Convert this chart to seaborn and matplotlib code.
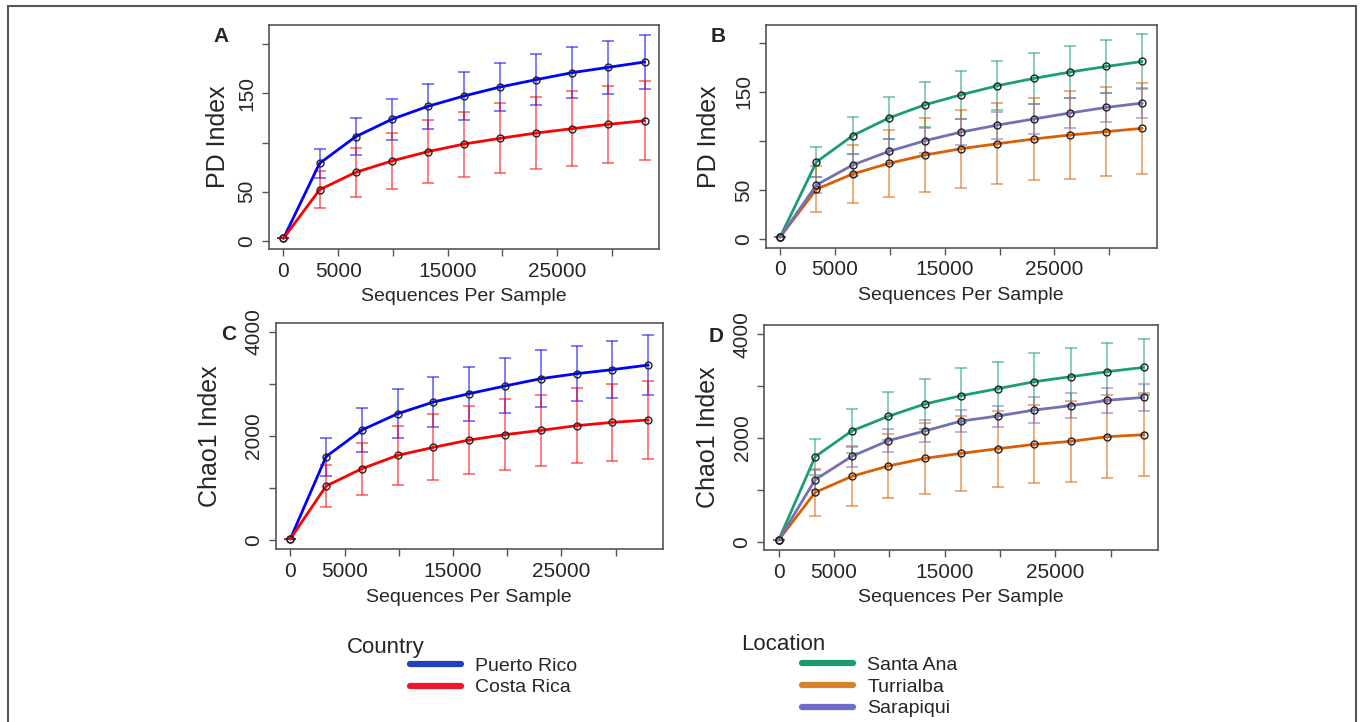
import numpy as np
import pandas as pd
import matplotlib
matplotlib.use("Agg")
import matplotlib.pyplot as plt
from matplotlib.lines import Line2D
from matplotlib.patches import Rectangle
import seaborn as sns

# rarefaction depths
depth = [0, 3300, 6600, 9900, 13200, 16500, 19800, 23100, 26400, 29700, 33000]

# PD index by country (mean, sd)
pd_puerto_rico = [2.7, 78.9, 106, 123.6, 136.8, 147.3, 156.4, 163.9, 171, 176.4, 181.8]
pd_puerto_rico_sd = [0, 15, 19, 21, 23, 24.4, 24.7, 26, 26, 26.7, 27]
pd_costa_rica = [2.7, 52.1, 69.8, 81.3, 90.8, 98.5, 104.3, 109.7, 114.1, 118.5, 122.2]
pd_costa_rica_sd = [0, 19, 25, 28, 32, 33, 35.6, 36.7, 37.8, 38.8, 39.8]

# PD index by location
pd_santa_ana = [2, 78.4, 105.2, 123.2, 136.7, 146.9, 156.1, 163.5, 170, 175.7, 180.8]
pd_santa_ana_sd = [0, 15.5, 19, 21, 23, 24.5, 24.8, 26.2, 26.1, 26.9, 27.5]
pd_turrialba = [2, 50.6, 66.2, 77, 85.5, 92, 97, 101.8, 105.9, 109.3, 112.7]
pd_turrialba_sd = [0, 23.4, 29.5, 34.4, 37.3, 39.7, 41, 41.9, 44.5, 45.2, 46.3]
pd_sarapiqui = [2, 55, 75.3, 89.2, 100.1, 108.9, 116, 122.2, 128.3, 134, 138.4]
pd_sarapiqui_sd = [0, 7.8, 10.9, 12.5, 13, 13.6, 13.7, 15, 15, 14.6, 14.7]

# Chao1 by country
chao_puerto_rico = [19, 1603, 2115, 2429, 2654, 2814, 2962, 3103, 3199, 3276, 3365]
chao_puerto_rico_sd = [0, 365, 426, 475, 484, 516, 529, 548, 532, 545, 570]
chao_costa_rica = [19, 1038, 1372, 1628, 1782, 1923, 2026, 2109, 2199, 2263, 2308]
chao_costa_rica_sd = [0, 410, 500, 564, 635, 645, 686, 689, 718, 737, 747]

# Chao1 by location
chao_santa_ana = [32, 1640, 2135, 2418, 2656, 2817, 2952, 3087, 3183, 3280, 3363]
chao_santa_ana_sd = [0, 350, 417, 463, 482, 527, 521, 546, 547, 546, 541]
chao_turrialba = [32, 952, 1260, 1460, 1608, 1704, 1794, 1878, 1936, 2026, 2064]
chao_turrialba_sd = [0, 456, 563, 617, 691, 726, 733, 752, 787, 800, 801]
chao_sarapiqui = [32, 1196, 1646, 1949, 2135, 2328, 2424, 2540, 2624, 2727, 2785]
chao_sarapiqui_sd = [0, 193, 209, 219, 219, 216, 203, 257, 241, 235, 260]

countries = ["Puerto Rico", "Costa Rica"]
locations = ["Santa Ana", "Turrialba", "Sarapiqui"]
country_colors = {"Puerto Rico": "#0000ff", "Costa Rica": "#ff0000"}
location_colors = {"Santa Ana": "#1b9e77", "Turrialba": "#d95f02", "Sarapiqui": "#7570b3"}
country_legend_colors = ["#2040c0", "#ee1530"]
location_legend_colors = ["#1a9a70", "#d8802a", "#6b6bd0"]

sns.set_style("white")
plt.rcParams["font.family"] = ["Liberation Sans", "DejaVu Sans"]

fig = plt.figure(figsize=(13.6, 7.22), dpi=100)
fig.patches.append(Rectangle((8 / 1360, -0.1), 1348 / 1360, 1.1 - 6 / 722,
                             transform=fig.transFigure, fill=False,
                             edgecolor="#555555", linewidth=1.5))

panels = [
    ("A", [0.1978, 0.6551, 0.2868, 0.3102], "PD Index",
     {"Puerto Rico": (pd_puerto_rico, pd_puerto_rico_sd),
      "Costa Rica": (pd_costa_rica, pd_costa_rica_sd)}, country_colors, (-8.1, 219.3), -0.100),
    ("B", [0.5630, 0.6569, 0.2875, 0.3084], "PD Index",
     {"Santa Ana": (pd_santa_ana, pd_santa_ana_sd),
      "Turrialba": (pd_turrialba, pd_turrialba_sd),
      "Sarapiqui": (pd_sarapiqui, pd_sarapiqui_sd)}, location_colors, (-8.9, 217.9), -0.115),
    ("C", [0.2029, 0.2396, 0.2843, 0.3126], "Chao1 Index",
     {"Puerto Rico": (chao_puerto_rico, chao_puerto_rico_sd),
      "Costa Rica": (chao_costa_rica, chao_costa_rica_sd)}, country_colors, (-173, 4167), -0.140),
    ("D", [0.5618, 0.2382, 0.2899, 0.3112], "Chao1 Index",
     {"Santa Ana": (chao_santa_ana, chao_santa_ana_sd),
      "Turrialba": (chao_turrialba, chao_turrialba_sd),
      "Sarapiqui": (chao_sarapiqui, chao_sarapiqui_sd)}, location_colors, (-160, 4174), -0.111),
]

for letter, rect, ylabel, series, colors, ylim, ylab_x in panels:
    ax = fig.add_axes(rect)
    rows = []
    for name, (mean, sd) in series.items():
        for x, m, s in zip(depth, mean, sd):
            rows.append({"depth": x, "value": m, "sd": s, "group": name})
    df = pd.DataFrame(rows)

    # error bars first, then lines on top
    for name in series:
        sub = df[df["group"] == name]
        ax.errorbar(sub["depth"], sub["value"], yerr=sub["sd"], fmt="none",
                    ecolor=colors[name], alpha=0.55, elinewidth=1.3,
                    capsize=4, capthick=1.3, zorder=2)
    sns.lineplot(data=df, x="depth", y="value", hue="group", palette=colors,
                 hue_order=list(series), marker="o", markersize=5,
                 markerfacecolor="none", markeredgecolor="#222222",
                 markeredgewidth=1.0, linewidth=2, legend=False, ax=ax, zorder=3)

    ax.set_xlim(-1320, 34320)
    ax.set_ylim(*ylim)
    ax.set_xticks([0, 5000, 10000, 15000, 20000, 25000, 30000])
    ax.set_xticklabels(["0", "5000", "", "15000", "", "25000", ""])
    if ylabel == "PD Index":
        ax.set_yticks([0, 50, 100, 150, 200])
        ax.set_yticklabels(["0", "50", "", "150", ""])
    else:
        ax.set_yticks([0, 1000, 2000, 3000, 4000])
        ax.set_yticklabels(["0", "", "2000", "", "4000"])
    for lab in ax.get_yticklabels():
        lab.set_rotation(90)
        lab.set_va("center")
    ax.tick_params(axis="both", direction="out", length=5, width=1.0,
                   color="#555555", labelsize=15, pad=4, left=True, bottom=True)
    for sp in ax.spines.values():
        sp.set_visible(True)
        sp.set_color("#555555")
        sp.set_linewidth(1.2)
    ax.set_xlabel("Sequences Per Sample", fontsize=14)
    ax.xaxis.set_label_coords(0.5, -0.175)
    ax.set_ylabel(ylabel, fontsize=18)
    ax.yaxis.set_label_coords(ylab_x, 0.5)
    pos = ax.get_position()
    fig.text(pos.x0 - 0.035, pos.y1 - 0.003, letter, fontsize=15,
             fontweight="bold", ha="center", va="top")

# legends
fig.text(347 / 1360, 1 - 647 / 722, "Country", fontsize=16, va="center")
fig.text(741 / 1360, 1 - 644 / 722, "Location", fontsize=16, va="center")

country_handles = [Line2D([], [], color=c, linewidth=4.5) for c in country_legend_colors]
location_handles = [Line2D([], [], color=c, linewidth=4.5) for c in location_legend_colors]
fig.legend(country_handles, countries, loc="upper left",
           bbox_to_anchor=(410 / 1360, 1 - 657 / 722), frameon=False, fontsize=14,
           handlelength=2.6, handletextpad=0.75, labelspacing=0.22, borderpad=0,
           borderaxespad=0, handleheight=0.7)
fig.legend(location_handles, locations, loc="upper left",
           bbox_to_anchor=(802 / 1360, 1 - 656 / 722), frameon=False, fontsize=14,
           handlelength=2.6, handletextpad=0.75, labelspacing=0.22, borderpad=0,
           borderaxespad=0, handleheight=0.7)

fig.savefig("out.png", dpi=100)
